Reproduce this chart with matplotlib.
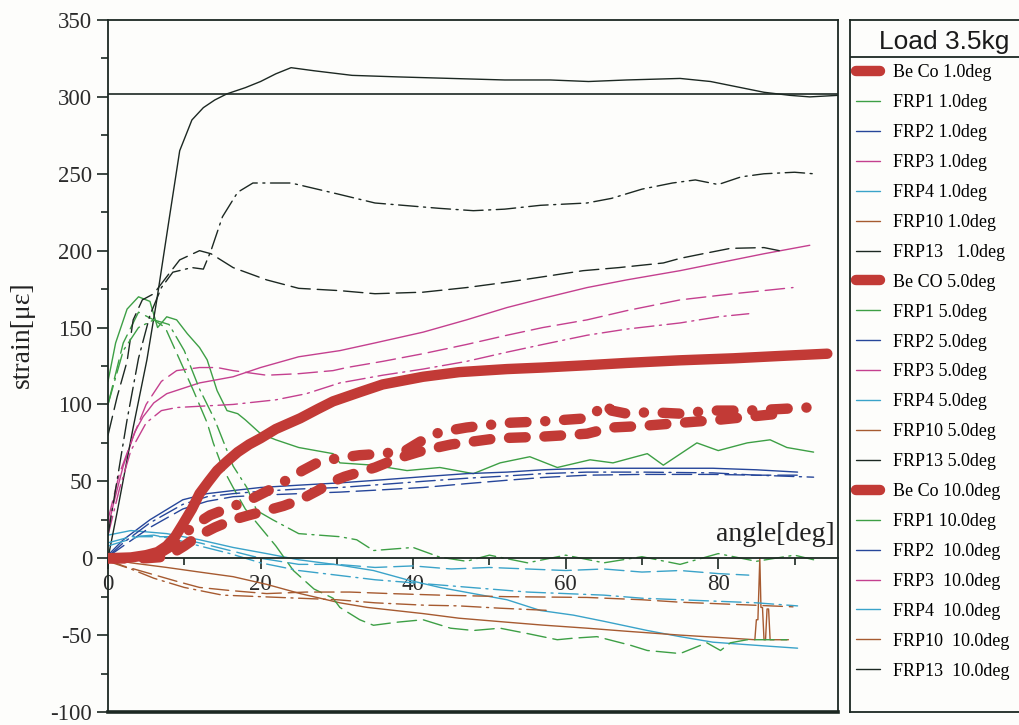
import matplotlib
matplotlib.use('Agg')
import matplotlib.pyplot as plt
from matplotlib.lines import Line2D

plt.rcParams['font.family'] = ['Liberation Serif', 'DejaVu Serif']
plt.rcParams['axes.unicode_minus'] = False

# ---- Be Co ----
x_beco_1 = [0, 3, 5, 6.5, 7.7, 8.8, 9.8, 11, 12, 13.2, 14.3, 15.6, 17, 18.5, 20, 22, 25.2, 27.5, 29.5, 33, 36,
            41.3, 46, 52.3, 57, 62.8, 68, 75, 82, 88, 94.3]
y_beco_1 = [0, 0.5, 2, 4, 8, 14, 22, 32, 42, 50, 57, 63, 69, 74, 78, 84, 91, 97, 102, 108, 113,
            118, 121, 123, 124, 125.5, 127, 128.7, 130, 131.5, 133]
x_beco_5 = [0, 3, 5, 7.7, 10, 12, 14, 16.4, 18.5, 20.8, 23, 25.2, 27.5, 29.5, 31, 33, 35, 38, 41.3, 45, 48,
            51, 56.7, 60, 62.8, 66, 70, 75, 80, 84, 88]
y_beco_5 = [0, 0, 0, 1, 8, 15, 20, 25, 28, 31, 34, 38, 44, 50, 53, 56, 59, 65, 70, 74, 76,
            78, 79, 80, 81, 85, 86, 88, 90, 92, 94]
x_beco_10 = [0, 3, 5, 7, 9, 9.8, 11.5, 13.4, 16, 18.6, 21, 23.5, 25.5, 27.4, 30, 33, 36, 39, 41, 43.5, 47,
             52.3, 57, 62.8, 64, 65, 66, 68, 71, 75, 79, 83.8, 88, 91.7]
y_beco_10 = [0, 0, 1, 4, 10, 15, 22, 28, 33, 38, 44, 51, 57, 62, 65, 67, 68, 70, 76, 82, 85,
             88, 89, 91, 95, 101, 96, 94, 95, 94, 96, 96, 97, 98]

# ---- FRP1 ----
x_frp1_1 = [0, 1, 2.5, 4, 5.5, 6.5, 7.7, 9, 10.4, 12, 13, 14.3, 15.6, 17, 18, 20, 22, 25, 29.5, 30.4, 34.8,
            39.2, 43.5, 47.9, 51.4, 55.3, 58.9, 63.2, 66.2, 70.7, 72.8, 77.2, 80, 83.8, 86.8, 89, 92.5]
y_frp1_1 = [115, 140, 162, 170, 167, 150, 157, 155, 146, 137, 129, 109, 96, 94, 90, 81, 77, 72, 68, 62, 60.5,
            57, 59, 55, 62, 66, 59, 64, 62, 68, 60.5, 75, 70, 75, 77, 72, 69]
x_frp1_5 = [0, 2, 4, 6, 7.5, 9.4, 11.2, 13, 13.8, 15, 16.4, 18, 20, 22, 24.3, 27, 29.5, 30.4, 33, 34.8, 37.9,
            41.3, 44.9, 47.9, 51.4, 55, 58.9, 61, 64.1, 68.5, 70.7, 75, 76, 78.5, 80.3, 81.6, 83.8, 89]
y_frp1_5 = [100, 140, 160, 155, 150, 129, 109, 88, 75, 59, 46, 32, 20, 8, -8, -20, -26, -32, -40, -43.6, -41.6,
            -40, -45.5, -47, -45.5, -49, -53, -52, -51, -56.6, -60, -62, -60, -55, -60, -55, -53, -53]
x_frp1_10 = [0, 2, 4, 6, 8, 10, 12, 14, 16.4, 18.2, 19.5, 21.6, 25, 30.4, 32.6, 34.8, 40, 43.5, 47, 50, 55,
             60, 65, 70, 75, 80, 85, 90, 92.5]
y_frp1_10 = [100, 135, 150, 155, 152, 135, 110, 90, 60, 46, 31, 25, 16, 14, 12, 5, 7, 0.7, -2, 2, -3,
             2, -3, 1, -4, 3, -2, 2, -1]

# ---- FRP2 ----
x_frp2 = [0, 2, 5.5, 9.8, 13, 16.4, 20, 25, 30.4, 36, 41.3, 47, 52.3, 57, 62.8, 70, 79.3, 85, 90.4]
y_frp2_1 = [2, 12, 25, 38, 42, 44, 46, 47.5, 49, 51, 53, 55, 56, 57.5, 58.5, 58.5, 58.5, 57.5, 56]
y_frp2_5 = [1, 8, 20, 32, 37, 40, 41, 42, 43, 44.5, 46, 48.5, 50.7, 52.5, 54, 54.5, 54.5, 54, 54]
x_frp2_10 = [0, 2, 5.5, 9.8, 13, 16.4, 20, 25, 30.4, 36, 41.3, 47, 52.3, 57, 62.8, 70, 79.3, 85, 92.5]
y_frp2_10 = [1, 10, 23, 35, 40, 42, 43.5, 45, 46, 48, 50, 52, 53.5, 55, 56, 56, 55.5, 54, 52.7]

# ---- FRP3 ----
x_frp3_1 = [0, 0.7, 2, 3.5, 4.6, 6, 7.7, 12, 16.4, 20, 25, 30.4, 35, 41.3, 47, 52.3, 57, 62.8, 68, 75,
            80, 86, 92]
y_frp3_1 = [20, 35, 60, 82, 92, 101, 107, 114, 118, 124, 131, 135, 140, 147, 155, 163, 169, 176, 181, 187,
            192, 198, 203.5]
x_frp3_5 = [0, 1.5, 3.3, 5, 7, 9, 12, 14.3, 16.4, 20.8, 25, 29.5, 31.3, 36, 41.3, 47, 52.3, 57, 62.8, 68,
            75, 82, 89.8]
y_frp3_5 = [25, 55, 79, 100, 115, 122, 124, 124, 122, 119, 120, 122, 124, 128, 133, 139, 145, 150, 155, 161,
            168, 172, 176]
x_frp3_10 = [0, 1.5, 3, 5, 7, 9, 16.4, 22, 26, 30.4, 36, 41.3, 47, 52.3, 57, 62.8, 68, 75, 80, 84]
y_frp3_10 = [15, 45, 70, 88, 96, 98, 100, 103, 107, 114, 119, 123, 128, 134, 139, 145, 149, 153, 157, 159]

# ---- FRP4 ----
x_frp4_1 = [0, 3, 7.7, 12, 16.4, 20.8, 25, 30.4, 34.8, 39.2, 43.5, 47.9, 52.3, 56.7, 61, 65, 70.7, 75,
            79.3, 86, 90.4]
y_frp4_1 = [15, 18, 16, 12, 7, 3, -1, -4.5, -8, -14, -19, -23, -27, -34, -37, -41, -47, -51,
            -54.6, -57, -58.5]
x_frp4_5 = [0, 4, 8, 12, 16, 20, 25, 30, 35, 40, 45, 50, 55, 60, 65, 70, 75, 80, 84]
y_frp4_5 = [8, 14, 14, 10, 5, 0, -4, -4, -6, -5, -7, -6, -7, -8, -7, -9, -8, -10, -11]
x_frp4_10 = [0, 3, 6, 9, 12, 16, 20, 25, 30, 35, 40, 45, 50, 55, 60, 65, 70, 75, 80, 85, 90.4]
y_frp4_10 = [10, 14, 15, 12, 8, 3, -3, -8, -11, -14, -16, -18, -20, -22, -23, -24, -26, -27, -28, -29, -31]

# ---- FRP10 ----
x_frp10_1 = [0, 3, 7.7, 12, 16.4, 20.8, 25.2, 30.4, 34, 41.3, 46, 52.3, 57, 62.8, 68, 75, 80, 84.8,
             85.0, 85.2, 85.45, 85.6, 85.8, 86.0, 86.2, 86.4, 86.6, 86.8, 89.2]
y_frp10_1 = [0, -3, -6, -9, -12, -17, -23, -29, -32, -36, -39, -41.6, -43.5, -45.5, -47.5, -50, -51.5, -53,
             -40, -40, 0, -32, -32, -53, -53, -33, -33, -53, -53]
x_frp10_5 = [0, 2, 5.5, 9, 12, 16, 20.8, 26, 31.7, 37, 43.5, 52.3, 62.8, 70, 75, 82, 89.8]
y_frp10_5 = [-1, -5, -10, -15, -19, -21, -23, -22, -22, -23, -24, -25, -25.5, -27, -28.6, -30, -31.6]
x_frp10_10 = [0, 3, 6, 10, 15, 20, 25, 30, 35, 41.3, 46, 51.4, 58]
y_frp10_10 = [-2, -7, -13, -19, -24, -25, -26, -27, -29, -30.5, -31, -32.5, -34]

# ---- FRP13 ----
x_frp13_1 = [0, 1.2, 3.3, 5.1, 6.4, 8, 9.4, 11, 12.5, 14, 15.6, 18, 20, 22, 24, 27, 32, 38, 45, 52, 58,
             63, 68, 75, 79, 83, 86, 89.4, 92, 95.7]
y_frp13_1 = [0, 30, 85, 129, 168, 220, 265, 285, 293, 298, 302, 306, 310, 315, 319, 317, 314, 313, 312, 311, 311,
             310, 311, 312, 310, 306, 303, 301, 300, 301]
x_frp13_5 = [0, 1.2, 2.5, 3.3, 4.5, 6, 8, 9.4, 12, 13.5, 16.4, 20.8, 25, 30.4, 35, 41.3, 47, 52.3, 57, 62.3,
             67, 72.8, 75, 78, 81.6, 86, 88]
y_frp13_5 = [80, 105, 128, 155, 168, 172, 185, 194, 200, 198, 189, 181, 175.5, 174, 172, 173, 176, 179.5, 183, 187,
             189, 192, 195, 198, 201.5, 202, 200]
x_frp13_10 = [0, 1, 2.5, 4, 5.5, 7, 8.5, 11, 12.5, 13.5, 15, 17, 19, 24, 30, 35, 43.5, 47.9, 52, 56.7,
              62.8, 66, 70, 74, 77, 80, 83, 86, 90, 92.5]
y_frp13_10 = [15, 45, 90, 130, 158, 176, 186, 189, 188, 200, 222, 238, 244, 244, 237, 231, 227.5, 226, 227, 229.5,
              231, 234, 240, 244, 246, 243, 248, 250, 251, 250]

ref_line = 301.8

red = '#c23a36'
green = '#3d9f45'
blue = '#26469a'
pink = '#c4408f'
cyan = '#3aa3c9'
brown = '#a65a30'
black = '#1c2822'

thin_dash = (14, 5)
thin_dashdot = (14, 4, 1.5, 4)
thick_dash = (1.6, 1.8)
thick_dashdot = (1.6, 1.8, 0.01, 1.8)

series = [
    (x_beco_1, y_beco_1, red, None, 7.5, 'Be Co 1.0deg'),
    (x_frp1_1, y_frp1_1, green, None, 1, 'FRP1 1.0deg'),
    (x_frp2, y_frp2_1, blue, None, 1, 'FRP2 1.0deg'),
    (x_frp3_1, y_frp3_1, pink, None, 1, 'FRP3 1.0deg'),
    (x_frp4_1, y_frp4_1, cyan, None, 1, 'FRP4 1.0deg'),
    (x_frp10_1, y_frp10_1, brown, None, 1, 'FRP10 1.0deg'),
    (x_frp13_1, y_frp13_1, black, None, 1, 'FRP13   1.0deg'),
    (x_beco_5, y_beco_5, red, thick_dash, 7.5, 'Be CO 5.0deg'),
    (x_frp1_5, y_frp1_5, green, thin_dash, 1, 'FRP1 5.0deg'),
    (x_frp2, y_frp2_5, blue, thin_dash, 1, 'FRP2 5.0deg'),
    (x_frp3_5, y_frp3_5, pink, thin_dash, 1, 'FRP3 5.0deg'),
    (x_frp4_5, y_frp4_5, cyan, thin_dash, 1, 'FRP4 5.0deg'),
    (x_frp10_5, y_frp10_5, brown, thin_dash, 1, 'FRP10 5.0deg'),
    (x_frp13_5, y_frp13_5, black, thin_dash, 1, 'FRP13 5.0deg'),
    (x_beco_10, y_beco_10, red, thick_dashdot, 7.5, 'Be Co 10.0deg'),
    (x_frp1_10, y_frp1_10, green, thin_dashdot, 1, 'FRP1 10.0deg'),
    (x_frp2_10, y_frp2_10, blue, thin_dashdot, 1, 'FRP2  10.0deg'),
    (x_frp3_10, y_frp3_10, pink, thin_dashdot, 1, 'FRP3  10.0deg'),
    (x_frp4_10, y_frp4_10, cyan, thin_dashdot, 1, 'FRP4  10.0deg'),
    (x_frp10_10, y_frp10_10, brown, thin_dashdot, 1, 'FRP10  10.0deg'),
    (x_frp13_10, y_frp13_10, black, thin_dashdot, 1, 'FRP13  10.0deg'),
]

fig = plt.figure(figsize=(10.19, 7.25), dpi=100)
fig.patch.set_facecolor('#fdfdfb')
ax = fig.add_axes([108 / 1019, 13 / 725, 730 / 1019, 692 / 725])
ax.set_facecolor('#fdfdfb')

handles = []
for xs, ys, c, dash, lw, lab in series:
    z = 3 if lw > 2 else 2
    ln, = ax.plot(xs, ys, color=c, lw=lw, zorder=z, solid_capstyle='round', dash_capstyle='round')
    if dash is not None:
        ln.set_dashes(dash)
    handles.append(Line2D([], [], color=c, lw=lw, solid_capstyle='round'))

ax.axhline(ref_line, color=black, lw=1.2, zorder=1)

ax.set_xlim(0, 95.7)
ax.set_ylim(-100, 350)
ax.spines['bottom'].set_position(('data', 0))
for s in ax.spines.values():
    s.set_color(black)
    s.set_linewidth(1.3)
ax.axhline(-100, color=black, lw=2.6, clip_on=False, zorder=5)

ax.set_xticks([0, 20, 40, 60, 80])
ax.set_xticks([10, 30, 50, 70, 90], minor=True)
ax.set_yticks(range(-100, 351, 50))
ax.set_yticks(range(-75, 350, 50), minor=True)
ax.tick_params(axis='both', which='major', length=8, width=1.2, color=black,
               labelsize=16.5, labelcolor='#2a2a2a', direction='out')
ax.tick_params(axis='both', which='minor', length=5, width=1.2, color=black, direction='out')

ax.set_ylabel('strain[\u03bc\u03b5]', fontsize=20, color='#222222')
ax.yaxis.set_label_coords(-0.1, 0.545)
ax.text(95.3, 7, 'angle[deg]', ha='right', va='bottom', fontsize=20, color='#222222')

# legend panel
lax = fig.add_axes([850 / 1019, 13 / 725, 200 / 1019, 692 / 725])
lax.set_facecolor('#fdfdfb')
lax.set_xticks([])
lax.set_yticks([])
for s in lax.spines.values():
    s.set_color(black)
    s.set_linewidth(1.3)
lax.set_xlim(0, 1)
lax.set_ylim(0, 1)
lax.text(0.47, 0.968, 'Load 3.5kg', ha='center', va='center', fontsize=19,
         family=['Liberation Sans', 'DejaVu Sans'], color='#1a1a1a')
lax.axhline(0.9465, color=black, lw=1.3)
lax.legend(handles, [s[5] for s in series], loc='upper left', bbox_to_anchor=(0.0, 0.945),
           frameon=False, fontsize=13, handlelength=1.3, handletextpad=0.75,
           labelspacing=0.715, borderaxespad=0.2, borderpad=0.15)

fig.savefig('out.png', dpi=100, facecolor=fig.get_facecolor())
